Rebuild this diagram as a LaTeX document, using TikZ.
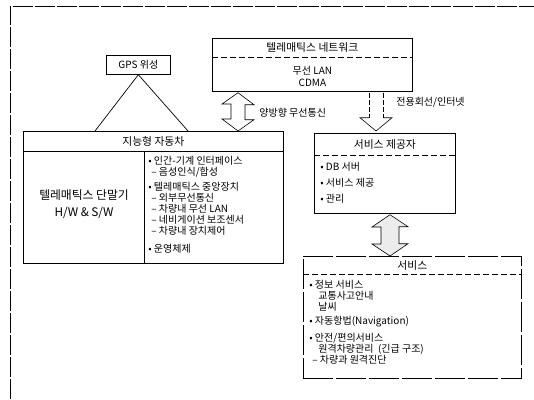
\documentclass[tikz,border=0pt]{standalone}
\usepackage{fontspec}
\setmainfont{Liberation Sans}
\newfontfamily\kr{Noto Sans CJK KR}
\usetikzlibrary{calc}
\tikzset{
  box/.style={draw, inner sep=0pt, anchor=north west},
  txt/.style={inner sep=0pt, anchor=west},
  ctr/.style={inner sep=0pt},
  ttl/.style={inner sep=0pt, font=\kr\fontsize{10.8}{12}\selectfont},
  big/.style={inner sep=0pt, font=\kr\fontsize{11.8}{13}\selectfont},
  hollow/.style={draw, fill=white, line width=0.6pt},
  hdr/.style={dash pattern=on 6pt off 3pt, line width=0.5pt},
}
\begin{document}
\begin{tikzpicture}[x=1pt,y=-1pt, font=\kr\fontsize{10}{11}\selectfont, line width=0.7pt]
\useasboundingbox (0,0) rectangle (534,399);
% outer frame
\coordinate (fl) at (10,399);
\coordinate (fc) at (10,6);
\coordinate (fr) at (534,6);
\draw[dash pattern=on 20pt off 2pt] (fl) -- (fc) -- (fr);

% GPS
\node[box, minimum width=64pt, minimum height=19pt] (gps) at (106,55) {};
\node[ctr] (gpst) at (gps.center) {GPS 위성};

% car box
\node[box, minimum width=260pt, minimum height=132pt] (car) at (23,131) {};
\draw ($(car.north west)+(0,20)$) -- ($(car.north east)+(0,20)$);
\draw ($(car.north west)+(121,20)$) -- ($(car.south west)+(121,0)$);
\node[ttl] (cart) at ($(car.north)+(0,10)$) {지능형 자동차};
\node[big] (term1) at (84,195) {텔레매틱스 단말기};
\node[big] (term2) at (84,213) {H/W \& S/W};
\node[txt] (c1) at (148,161) {• 인간-기계 인터페이스};
\node[txt] (c2) at (151,172) {– 음성인식/합성};
\node[txt] (c3) at (148,187) {• 텔레매틱스 중앙장치};
\node[txt] (c4) at (151,198) {– 외부무선통신};
\node[txt] (c5) at (151,209) {– 차량내 무선 LAN};
\node[txt] (c6) at (151,220) {– 네비게이션 보조센서};
\node[txt] (c7) at (151,231) {– 차량내 장치제어};
\node[txt] (c8) at (148,249) {• 운영체제};

% triangle
\draw (gps.south) -- ($(car.north west)+(72,0)$);
\draw (gps.south) -- ($(car.north west)+(165,0)$);

% network box
\node[box, minimum width=200pt, minimum height=53pt] (net) at (212,38) {};
\draw[hdr] ($(net.north west)+(0,19)$) -- ($(net.north east)+(0,19)$);
\node[ttl] (nett) at ($(net.north)+(0,9.5)$) {텔레매틱스 네트워크};
\node[ctr] (net1) at ($(net.north)+(0,33)$) {무선 LAN};
\node[ctr] (net2) at ($(net.north)+(0,45)$) {CDMA};

% bidirectional arrow net <-> car
\coordinate (d1t) at ($(net.south west)+(26,1)$);
\coordinate (d1b) at (d1t |- car.north);
\draw[hollow] (d1t) -- ++(16,12) -- ++(-9,0) -- ++(0,15) -- ++(9,0) -- (d1b)
  -- ++(-16,-12) -- ++(9,0) -- ++(0,-15) -- ++(-9,0) -- cycle;
\node[txt] (lab1) at (259,113) {양방향 무선통신};

% provider box
\node[box, minimum width=141pt, minimum height=80pt] (prov) at (314,133) {};
\draw[hdr] ($(prov.north west)+(0,22)$) -- ($(prov.north east)+(0,22)$);
\node[ttl] (provt) at ($(prov.north)+(0,11)$) {서비스 제공자};
\node[txt] (p1) at (320,167) {• DB 서버};
\node[txt] (p2) at (320,183) {• 서비스 제공};
\node[txt] (p3) at (320,199) {• 관리};

% down arrow net -> provider
\coordinate (d2t) at ($(net.south west)+(164,1)$);
\coordinate (d2b) at ($(d2t |- prov.north)+(0,-2)$);
\draw[dash pattern=on 5pt off 2pt, line width=0.6pt] ($(d2t)+(-7,0)$) -- ($(d2t)+(-7,25)$);
\draw[dash pattern=on 5pt off 2pt, line width=0.6pt] ($(d2t)+(7,0)$) -- ($(d2t)+(7,25)$);
\draw[line width=0.6pt] ($(d2t)+(-7,25)$) -- ($(d2t)+(-16,25)$) -- (d2b) -- ($(d2t)+(16,25)$) -- ($(d2t)+(7,25)$);
\node[txt] (lab2) at (396,102) {전용회선/인터넷};

% service box
\node[box, minimum width=218pt, minimum height=122pt, dash pattern=on 30pt off 3pt] (serv) at (303,256) {};
\draw[hdr] ($(serv.north west)+(0,18)$) -- ($(serv.north east)+(0,18)$);
\node[ttl] (servt) at ($(serv.north)+(0,9)$) {서비스};
\node[txt] (s1) at (309,285) {• 정보 서비스};
\node[txt] (s2) at (318,296) {교통사고안내};
\node[txt] (s3) at (318,307) {날씨};
\node[txt] (s4) at (309,322) {• 자동항법(Navigation)};
\node[txt] (s5) at (309,338) {• 안전/편의서비스};
\node[txt] (s6) at (318,349) {원격차량관리 \ (긴급 구조)};
\node[txt] (s7) at (312,360) {– 차량과 원격진단};

% bidirectional arrow provider <-> service
\coordinate (d3t) at ($(prov.south west)+(76,1)$);
\coordinate (d3b) at (d3t |- serv.north);
\draw[hollow, fill=gray!15] (d3t) -- ++(18,12) -- ++(-9,0) -- ++(0,17) -- ++(9,0) -- (d3b)
  -- ++(-18,-12) -- ++(9,0) -- ++(0,-17) -- ++(-9,0) -- cycle;
\end{tikzpicture}
\end{document}
